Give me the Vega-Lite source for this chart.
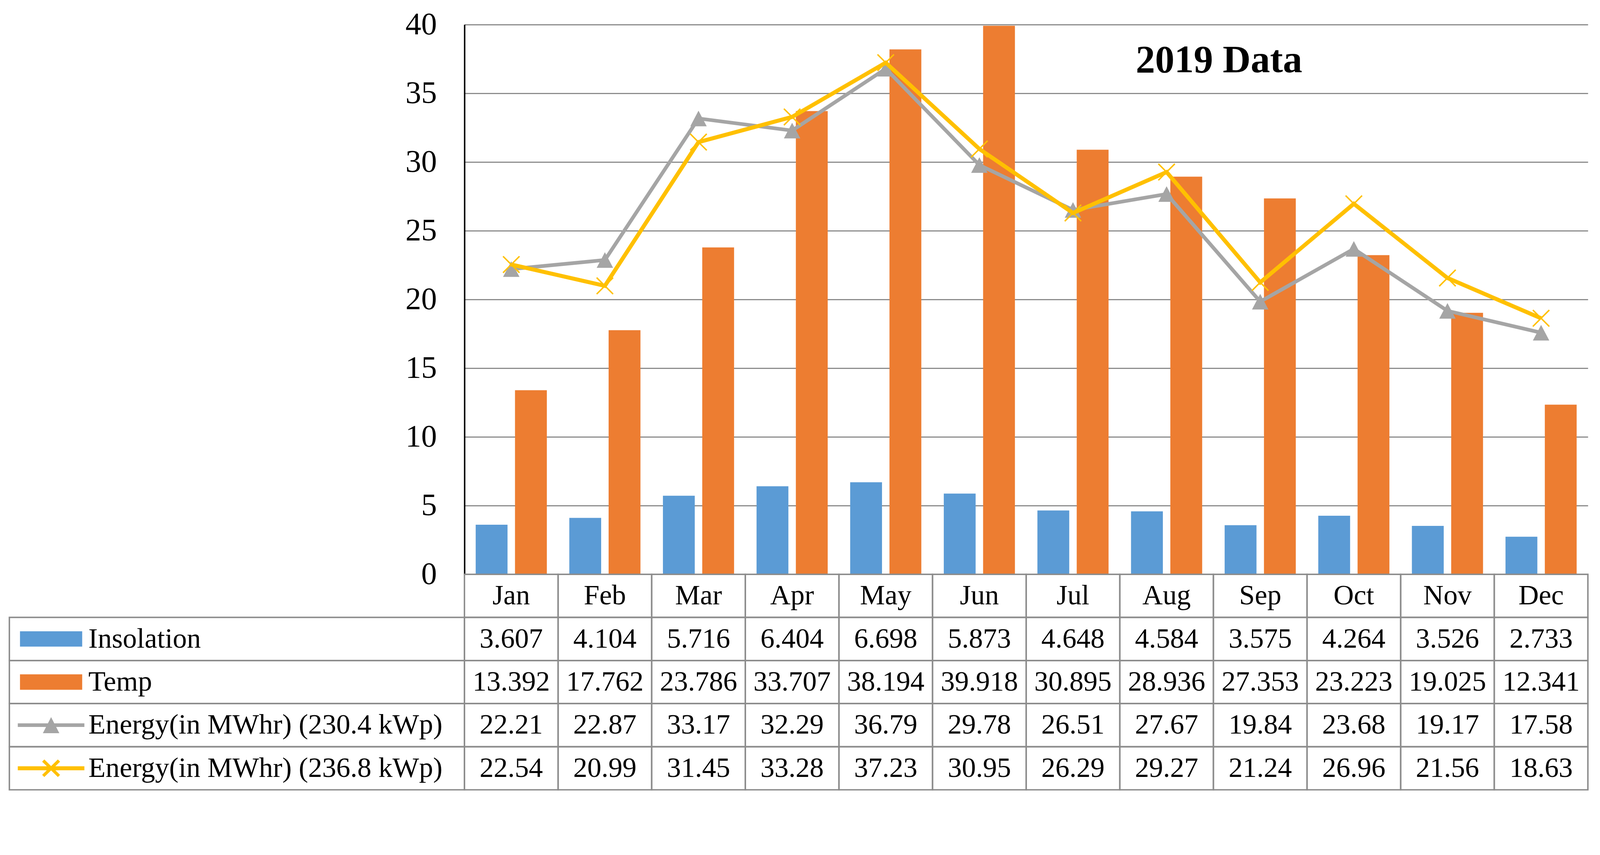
{
  "$schema": "https://vega.github.io/schema/vega-lite/v6.json",
  "background": "white",
  "autosize": {"type": "pad"},
  "padding": {"left": 22, "top": 23, "right": 28, "bottom": 26},
  "config": {"view": {"stroke": null}, "font": "Liberation Serif"},
  "datasets": {
    "d": [
      {"month": "Jan", "series": "Insolation", "value": 3.607},
      {"month": "Feb", "series": "Insolation", "value": 4.104},
      {"month": "Mar", "series": "Insolation", "value": 5.716},
      {"month": "Apr", "series": "Insolation", "value": 6.404},
      {"month": "May", "series": "Insolation", "value": 6.698},
      {"month": "Jun", "series": "Insolation", "value": 5.873},
      {"month": "Jul", "series": "Insolation", "value": 4.648},
      {"month": "Aug", "series": "Insolation", "value": 4.584},
      {"month": "Sep", "series": "Insolation", "value": 3.575},
      {"month": "Oct", "series": "Insolation", "value": 4.264},
      {"month": "Nov", "series": "Insolation", "value": 3.526},
      {"month": "Dec", "series": "Insolation", "value": 2.733},
      {"month": "Jan", "series": "Temp", "value": 13.392},
      {"month": "Feb", "series": "Temp", "value": 17.762},
      {"month": "Mar", "series": "Temp", "value": 23.786},
      {"month": "Apr", "series": "Temp", "value": 33.707},
      {"month": "May", "series": "Temp", "value": 38.194},
      {"month": "Jun", "series": "Temp", "value": 39.918},
      {"month": "Jul", "series": "Temp", "value": 30.895},
      {"month": "Aug", "series": "Temp", "value": 28.936},
      {"month": "Sep", "series": "Temp", "value": 27.353},
      {"month": "Oct", "series": "Temp", "value": 23.223},
      {"month": "Nov", "series": "Temp", "value": 19.025},
      {"month": "Dec", "series": "Temp", "value": 12.341},
      {"month": "Jan", "series": "Energy(in MWhr) (230.4 kWp)", "value": 22.21},
      {"month": "Feb", "series": "Energy(in MWhr) (230.4 kWp)", "value": 22.87},
      {"month": "Mar", "series": "Energy(in MWhr) (230.4 kWp)", "value": 33.17},
      {"month": "Apr", "series": "Energy(in MWhr) (230.4 kWp)", "value": 32.29},
      {"month": "May", "series": "Energy(in MWhr) (230.4 kWp)", "value": 36.79},
      {"month": "Jun", "series": "Energy(in MWhr) (230.4 kWp)", "value": 29.78},
      {"month": "Jul", "series": "Energy(in MWhr) (230.4 kWp)", "value": 26.51},
      {"month": "Aug", "series": "Energy(in MWhr) (230.4 kWp)", "value": 27.67},
      {"month": "Sep", "series": "Energy(in MWhr) (230.4 kWp)", "value": 19.84},
      {"month": "Oct", "series": "Energy(in MWhr) (230.4 kWp)", "value": 23.68},
      {"month": "Nov", "series": "Energy(in MWhr) (230.4 kWp)", "value": 19.17},
      {"month": "Dec", "series": "Energy(in MWhr) (230.4 kWp)", "value": 17.58},
      {"month": "Jan", "series": "Energy(in MWhr) (236.8 kWp)", "value": 22.54},
      {"month": "Feb", "series": "Energy(in MWhr) (236.8 kWp)", "value": 20.99},
      {"month": "Mar", "series": "Energy(in MWhr) (236.8 kWp)", "value": 31.45},
      {"month": "Apr", "series": "Energy(in MWhr) (236.8 kWp)", "value": 33.28},
      {"month": "May", "series": "Energy(in MWhr) (236.8 kWp)", "value": 37.23},
      {"month": "Jun", "series": "Energy(in MWhr) (236.8 kWp)", "value": 30.95},
      {"month": "Jul", "series": "Energy(in MWhr) (236.8 kWp)", "value": 26.29},
      {"month": "Aug", "series": "Energy(in MWhr) (236.8 kWp)", "value": 29.27},
      {"month": "Sep", "series": "Energy(in MWhr) (236.8 kWp)", "value": 21.24},
      {"month": "Oct", "series": "Energy(in MWhr) (236.8 kWp)", "value": 26.96},
      {"month": "Nov", "series": "Energy(in MWhr) (236.8 kWp)", "value": 21.56},
      {"month": "Dec", "series": "Energy(in MWhr) (236.8 kWp)", "value": 18.63}
    ]
  },
  "columns": 2,
  "spacing": 0,
  "bounds": "flush",
  "concat": [
    {
      "width": 1165,
      "height": 1408,
      "data": {"values": []},
      "mark": "point"
    },
    {
      "width": 2876,
      "height": 1408,
      "title": {"text": "2019 Data", "anchor": "start", "orient": "top", "offset": 0, "dx": 1870, "dy": 261, "baseline": "alphabetic", "font": "Liberation Serif", "fontSize": 99, "fontWeight": "bold", "color": "#000000"},
      "data": {"name": "d"},
      "encoding": {
        "x": {"field": "month", "type": "nominal", "scale": {"domain": ["Jan","Feb","Mar","Apr","May","Jun","Jul","Aug","Sep","Oct","Nov","Dec"], "paddingInner": 0.24, "paddingOuter": 0.12}, "axis": null},
        "y": {"field": "value", "type": "quantitative", "scale": {"domain": [0, 40], "nice": false},
              "axis": {"values": [0,5,10,15,20,25,30,35,40], "title": null, "grid": true, "gridColor": "#8C8C8C", "gridWidth": 2.8, "domainColor": "#000000", "domainWidth": 3.7, "ticks": false, "tickSize": 0, "labelPadding": 71, "labelFont": "Liberation Serif", "labelFontSize": 80.5, "labelColor": "#000000"}}
      },
      "layer": [
        {
          "transform": [{"filter": {"field": "series", "oneOf": ["Insolation", "Temp"]}}],
          "mark": {"type": "bar"},
          "encoding": {
            "xOffset": {"field": "series", "type": "nominal", "scale": {"domain": ["Insolation", "Temp"], "paddingInner": 0.19, "paddingOuter": 0}},
            "color": {"field": "series", "type": "nominal",
              "scale": {"domain": ["Insolation", "Temp", "Energy(in MWhr) (230.4 kWp)", "Energy(in MWhr) (236.8 kWp)"], "range": ["#5B9BD5", "#ED7D31", "#A5A5A5", "#FFC000"]},
              "legend": {"orient": "none", "legendX": 70.8, "legendY": 1537.6, "title": null, "direction": "vertical", "columns": 1, "symbolSize": 351, "symbolOffset": 0, "labelFont": "Liberation Serif", "labelFontSize": 72, "labelColor": "#000000", "labelOffset": 59.5, "rowPadding": 38.4, "padding": 0, "labelLimit": 3000, "labelBaseline": "middle",
                "encode": {"symbols": {"update": {
                  "shape": {"signal": "datum.value === 'Insolation' || datum.value === 'Temp' ? 'M-8.5,-2.1H8.5V2.1H-8.5Z' : datum.value === 'Energy(in MWhr) (230.4 kWp)' ? 'M-9.1,-0.5H9.1V0.5H-9.1Z M0,-2.2L2.25,2.2H-2.25Z' : 'M-9.1,-0.55H9.1V0.55H-9.1Z M-1.85,-2.4L2.45,1.8L1.85,2.4L-2.45,-1.8Z M1.85,-2.4L2.45,-1.8L-1.85,2.4L-2.45,1.8Z'"},
                  "fill": {"scale": "color", "field": "value"},
                  "stroke": {"value": "transparent"},
                  "strokeWidth": {"value": 0},
                  "opacity": {"value": 1},
                  "fillOpacity": {"value": 1}
                }}}
              }
            }
          }
        },
        {
          "transform": [{"filter": {"field": "series", "equal": "Energy(in MWhr) (230.4 kWp)"}}],
          "mark": {"type": "line", "strokeWidth": 9.4},
          "encoding": {"color": {"field": "series", "type": "nominal"}}
        },
        {
          "transform": [{"filter": {"field": "series", "equal": "Energy(in MWhr) (230.4 kWp)"}}],
          "mark": {"type": "point", "filled": true, "opacity": 1, "size": 1774, "strokeWidth": 0, "shape": "M0,-0.95L1,0.95L-1,0.95Z"},
          "encoding": {"color": {"field": "series", "type": "nominal"}}
        },
        {
          "transform": [{"filter": {"field": "series", "equal": "Energy(in MWhr) (236.8 kWp)"}}],
          "mark": {"type": "line", "strokeWidth": 10.3},
          "encoding": {"color": {"field": "series", "type": "nominal"}}
        },
        {
          "transform": [{"filter": {"field": "series", "equal": "Energy(in MWhr) (236.8 kWp)"}}],
          "mark": {"type": "point", "filled": false, "opacity": 1, "size": 1774, "strokeWidth": 3.7, "shape": "M-1,-1L1,1M1,-1L-1,1"},
          "encoding": {"color": {"field": "series", "type": "nominal"}}
        }
      ]
    },
    {
      "width": 1165,
      "height": 552,
      "data": {"name": "d"},
      "transform": [{"filter": {"field": "month", "equal": "Jan"}}],
      "mark": {"type": "rect", "fill": "transparent", "stroke": "#8C8C8C", "strokeWidth": 3.7},
      "encoding": {
        "y": {"field": "series", "type": "nominal", "scale": {"domain": [" ", "Insolation", "Temp", "Energy(in MWhr) (230.4 kWp)", "Energy(in MWhr) (236.8 kWp)"], "paddingInner": 0, "paddingOuter": 0}, "axis": null}
      }
    },
    {
      "width": 2876,
      "height": 552,
      "data": {"name": "d"},
      "encoding": {
        "x": {"field": "month", "type": "nominal", "scale": {"domain": ["Jan","Feb","Mar","Apr","May","Jun","Jul","Aug","Sep","Oct","Nov","Dec"], "paddingInner": 0, "paddingOuter": 0}, "axis": null}
      },
      "layer": [
        {
          "mark": {"type": "rect", "fill": "transparent", "stroke": "#8C8C8C", "strokeWidth": 3.7},
          "encoding": {"y": {"field": "series", "type": "nominal", "scale": {"domain": [" ", "Insolation", "Temp", "Energy(in MWhr) (230.4 kWp)", "Energy(in MWhr) (236.8 kWp)"], "paddingInner": 0, "paddingOuter": 0}, "axis": null}}
        },
        {
          "transform": [{"filter": {"field": "series", "equal": "Insolation"}}],
          "mark": {"type": "rect", "fill": "transparent", "stroke": "#8C8C8C", "strokeWidth": 3.7},
          "encoding": {"y": {"datum": " ", "type": "nominal"}}
        },
        {
          "mark": {"type": "text", "font": "Liberation Serif", "fontSize": 72, "color": "#000000"},
          "encoding": {"y": {"field": "series", "type": "nominal"}, "text": {"field": "value", "type": "nominal"}}
        },
        {
          "transform": [{"filter": {"field": "series", "equal": "Insolation"}}],
          "mark": {"type": "text", "font": "Liberation Serif", "fontSize": 72, "color": "#000000"},
          "encoding": {"y": {"datum": " ", "type": "nominal"}, "text": {"field": "month", "type": "nominal"}}
        }
      ]
    }
  ]
}
